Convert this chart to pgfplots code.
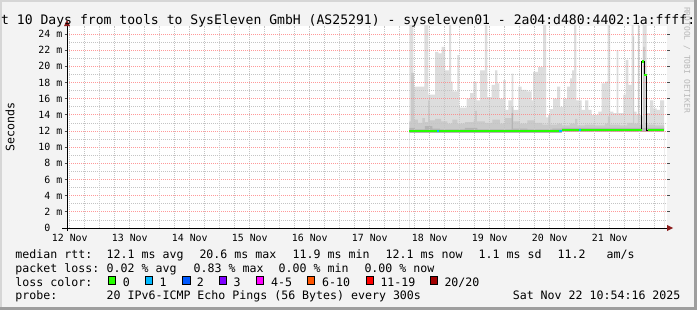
\documentclass[border=0pt]{standalone}
\usepackage{fontspec}
\setmainfont{DejaVu Sans Mono}
\usepackage{pgfplots}
\pgfplotsset{compat=1.18}
\usepackage{pgfplotstable}

\definecolor{bg}{HTML}{F3F3F3}
\definecolor{shadeA}{HTML}{D6D6D6}
\definecolor{shadeB}{HTML}{9E9E9E}
\definecolor{mgrid}{HTML}{FF8080}
\definecolor{ngrid}{HTML}{C4C4C4}
\definecolor{smokeL}{HTML}{DDDDDD}
\definecolor{smokeM}{HTML}{CACACA}
\definecolor{smokeD}{HTML}{B4B4B4}
\definecolor{arrowred}{HTML}{8B1C1C}
\definecolor{loss0}{HTML}{26FF00}
\definecolor{loss1}{HTML}{00B8FF}
\definecolor{loss2}{HTML}{0059FF}
\definecolor{loss3}{HTML}{7E00FF}
\definecolor{loss4}{HTML}{FF00FF}
\definecolor{loss6}{HTML}{FF5500}
\definecolor{loss11}{HTML}{FF0000}
\definecolor{loss20}{HTML}{A10000}

% hours since 12 Nov 00:00 ; value in ms
\pgfplotstableread{
h v
147.83 26
149.43 17.5
153.83 26
155.43 16.5
158.10 21.8
159.43 21.6
160.77 22.4
162.10 19.5
163.70 26
164.50 18.1
165.17 16.9
167.03 21.4
167.83 14.9
170.77 16.0
172.10 16.7
173.43 18.1
174.77 15.8
176.10 19.5
178.00 26
179.00 16.2
180.77 17.7
182.10 19.5
183.03 17.9
183.83 16.0
185.43 18.3
186.37 14.6
187.43 15.8
188.77 19.1
189.43 14.6
191.43 17.5
192.77 17.1
194.77 16.9
196.77 15.8
197.30 19.3
199.30 19.9
201.30 26
202.50 13.7
204.10 14.7
205.30 16.0
206.90 17.5
208.10 15.0
209.30 16.0
210.90 17.5
212.10 18.5
212.90 19.5
213.70 26
214.60 15.8
216.77 14.6
218.10 15.8
219.43 14.6
220.77 14.0
223.43 14.4
224.77 17.9
226.10 18.1
227.17 26
228.10 14.4
229.43 14.2
230.77 22.0
231.43 14.2
233.43 16.5
234.37 20.8
235.43 17.7
236.77 26
237.57 14.4
238.77 14.0
240.50 13.8
241.17 26
242.77 14.2
244.10 15.8
245.43 14.8
246.77 14.6
248.10 15.8
249.70 15.8
}\smokelight

\pgfplotstableread{
h v
147.83 13.2
148.50 19.2
149.70 13.4
151.20 13.0
153.00 13.6
154.00 13.1
155.30 15.8
155.90 13.3
158.10 13.5
160.50 13.2
163.00 12.9
165.00 13.4
167.00 12.9
170.00 13.1
173.50 13.3
174.00 14.5
174.80 13.2
178.00 13.0
181.00 13.4
184.00 12.9
186.00 13.6
188.77 15.0
189.43 13.2
192.00 12.9
195.00 13.3
198.00 13.0
201.00 12.8
203.40 14.0
204.20 12.8
207.00 12.9
208.80 12.7
212.00 12.9
214.10 13.5
215.00 12.7
218.00 12.8
222.00 12.7
226.00 12.9
227.20 13.8
228.10 12.8
232.00 12.7
235.00 13.0
237.30 23.7
237.70 12.9
239.20 26
239.80 12.8
241.30 22.4
242.10 13.0
243.00 12.8
246.00 12.7
249.70 12.7
}\smokemid

\pgfplotstableread{
h v
147.83 12.4
150.00 12.2
154.00 12.6
157.00 12.3
160.00 12.2
170.00 12.4
175.00 12.2
188.77 14.2
189.20 12.3
195.00 12.2
205.00 12.3
208.80 12.4
249.70 12.4
}\smokedark

% lower edge of the smoke (fastest ping)
\pgfplotstableread{
h v
147.83 11.75
208.80 11.85
249.70 11.85
}\smokebase

\pgfplotstableread{
h v
147.83 12.0
208.80 12.1
240.80 20.6
241.70 18.9
242.77 12.1
249.70 12.1
}\median

\pgfplotsset{rrdframe/.style={
  at={(67bp,82bp)}, anchor=south west,
  scale only axis, width=600bp, height=202.08bp,
  xmin=10.9, xmax=250.9, ymin=0, ymax=25, clip=true}}

\begin{document}
\begin{tikzpicture}[x=1bp,y=1bp]
\fill[bg] (0,0) rectangle (697,310);
% 3D frame
\fill[shadeA] (0,0) rectangle (2,310);
\fill[shadeA] (0,308) rectangle (697,310);
\fill[shadeB] (694,0) rectangle (697,310);
\fill[shadeB] (0,0) rectangle (697,3);

\begin{axis}[
  rrdframe,
  axis background/.style={fill=white},
  axis line style={draw=none},
  axis on top,
  font=\fontsize{9.9bp}{11bp}\selectfont,
  xtick={12,36,...,228},
  xticklabels={12 Nov,13 Nov,14 Nov,15 Nov,16 Nov,17 Nov,18 Nov,19 Nov,20 Nov,21 Nov},
  minor xtick={18,30,...,246},
  extra x ticks={24,48,...,240},
  extra x tick labels={},
  extra x tick style={grid=major, major grid style={mgrid, opacity=0.8, line width=0.8bp, dash pattern=on 1bp off 1bp}, major tick length=2.5bp, tick style={mgrid, line width=0.8bp}},
  ytick={0,2,...,24},
  yticklabels={0\phantom{\ m},2 m,4 m,6 m,8 m,10 m,12 m,14 m,16 m,18 m,20 m,22 m,24 m},
  minor ytick={1,3,...,23},
  xmajorgrids, xminorgrids, ymajorgrids, yminorgrids,
  major x grid style={ngrid, line width=0.8bp, dash pattern=on 1bp off 1bp},
  minor x grid style={ngrid, line width=0.8bp, dash pattern=on 1bp off 1bp},
  major y grid style={mgrid, opacity=0.8, line width=0.8bp, dash pattern=on 1bp off 1bp},
  minor y grid style={ngrid, line width=0.8bp, dash pattern=on 1bp off 1bp},
  tick align=outside,
  major tick length=2.5bp, minor tick length=0pt,
  xtick style={draw=none},
  ytick style={black!70, line width=0.8bp},
  xticklabel style={inner sep=0pt, anchor=base, yshift=-11bp},
  yticklabel style={inner sep=0pt, anchor=east, xshift=-2bp},
]
\addplot[const plot, fill=smokeL, draw=none] table[x=h,y=v] {\smokelight} \closedcycle;
\addplot[const plot, fill=smokeM, draw=none] table[x=h,y=v] {\smokemid} \closedcycle;
\addplot[const plot, fill=smokeD, draw=none] table[x=h,y=v] {\smokedark} \closedcycle;
% canvas below the fastest ping stays empty
\addplot[const plot, fill=white, draw=none] table[x=h,y=v] {\smokebase} \closedcycle;
\end{axis}

% median on top of grid
\begin{axis}[rrdframe, hide axis]
\addplot[const plot, black, line width=1bp] table[x=h,y=v] {\median};
\addplot[loss0, line width=2.2bp] coordinates {(147.83,12.0) (208.8,12.0)};
\addplot[loss0, line width=2.2bp] coordinates {(208.8,12.1) (240.8,12.1)};
\addplot[loss0, line width=2.2bp] coordinates {(240.8,20.6) (241.7,20.6)};
\addplot[loss0, line width=2.2bp] coordinates {(241.7,18.9) (242.77,18.9)};
\addplot[loss0, line width=2.2bp] coordinates {(243.1,12.1) (249.7,12.1)};
\addplot[loss1, line width=2.2bp] coordinates {(158.77,12.0) (159.7,12.0)};
\addplot[loss1, line width=2.2bp] coordinates {(207.7,12.0) (208.8,12.0)};
\addplot[loss1, line width=2.2bp] coordinates {(215.6,12.1) (216.5,12.1)};
\end{axis}

% axis lines with arrows
\draw[black, line width=1bp] (62,82) -- (667,82);
\fill[arrowred] (667,79) -- (673,82) -- (667,85) -- cycle;
\draw[black, line width=1bp] (67,79) -- (67,284);
\fill[arrowred] (64,284) -- (67,290) -- (70,284) -- cycle;

% title
\node[overlay, anchor=base west, inner sep=0pt, font=\fontsize{13.1bp}{15bp}\selectfont] at (-22.7,285.5)
  {Last 10 Days from tools to SysEleven GmbH (AS25291) - syseleven01 - 2a04:d480:4402:1a:ffff::2};
% y label
\node[rotate=90, inner sep=0pt, font=\fontsize{11.6bp}{13bp}\selectfont] at (10,183) {Seconds};
% watermark
\node[rotate=-90, inner sep=0pt, text=black!28, font=\fontsize{8bp}{9bp}\selectfont] at (687,250) {RRDTOOL / TOBI OETIKER};

% legend
\begin{scope}[every node/.style={anchor=base west, inner sep=0pt, font=\fontsize{11.6bp}{13bp}\selectfont}]
\node at (15.3,51.7) {median rtt:};
\node at (106.5,51.7) {12.1 ms avg};
\node at (199.3,51.7) {20.6 ms max};
\node at (292.5,51.7) {11.9 ms min};
\node at (385.5,51.7) {12.1 ms now};
\node at (478.5,51.7) {1.1 ms sd};
\node at (557.5,51.7) {11.2};
\node at (606.5,51.7) {am/s};
\node at (15.3,38) {packet loss:};
\node at (106.5,38) {0.02 \% avg};
\node at (193.5,38) {0.83 \% max};
\node at (278.5,38) {0.00 \% min};
\node at (364.3,38) {0.00 \% now};
\node at (15.3,24) {loss color:};
\node at (122.6,24) {0};
\node at (159.3,24) {1};
\node at (196.6,24) {2};
\node at (233.3,24) {3};
\node at (271,24) {4-5};
\node at (322,24) {6-10};
\node at (380.3,24) {11-19};
\node at (444.3,24) {20/20};
\node at (15.3,10.3) {probe:};
\node at (106.5,10.3) {20 IPv6-ICMP Echo Pings (56 Bytes) every 300s};
\node at (512.6,10.3) {Sat Nov 22 10:54:16 2025};
\end{scope}
\foreach \bx/\c in {108.3/loss0,145.3/loss1,182.5/loss2,219.2/loss3,256/loss4,307/loss6,366/loss11,430.3/loss20}
  \filldraw[fill=\c, draw=black, line width=0.8bp] (\bx,25.8) rectangle (\bx+7.5,34);
\end{tikzpicture}
\end{document}
